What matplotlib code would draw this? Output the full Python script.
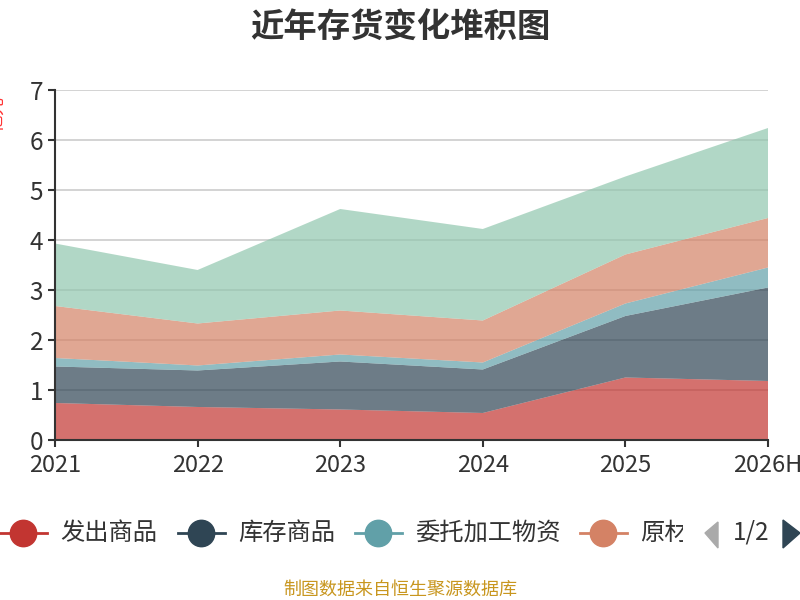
import matplotlib.pyplot as plt
from matplotlib.patches import Polygon
from matplotlib.lines import Line2D
from matplotlib.transforms import Bbox

plt.rcParams['font.family'] = ['Noto Sans CJK SC', 'DejaVu Sans']

years = ["2021", "2022", "2023", "2024", "2025", "2026H"]
series_names = ["发出商品", "库存商品", "委托加工物资", "原材料", "在产品"]
colors = ["#c23531", "#2f4554", "#61a0a8", "#d48265", "#91c7ae"]

fachu = [0.74, 0.66, 0.61, 0.54, 1.25, 1.18]
kucun = [0.73, 0.73, 0.96, 0.87, 1.23, 1.87]
weituo = [0.17, 0.10, 0.14, 0.14, 0.25, 0.40]
yuancailiao = [1.04, 0.84, 0.88, 0.84, 0.98, 0.99]
zaichan = [1.25, 1.07, 2.03, 1.83, 1.56, 1.80]

fig = plt.figure(figsize=(8, 6), dpi=100)
ax = fig.add_axes([0.06875, 0.2667, 0.89125, 0.5833])

x = range(len(years))
ax.stackplot(x, fachu, kucun, weituo, yuancailiao, zaichan,
             colors=colors, alpha=0.7, linewidth=0)

ax.set_xlim(0, len(years) - 1)
ax.set_ylim(0, 7)
ax.set_xticks(list(x))
ax.set_xticklabels(years)
ax.set_yticks(range(8))
ax.set_axisbelow(True)
ax.grid(axis="y", color="#cccccc", linewidth=1.2)
for s in ["top", "right"]:
    ax.spines[s].set_visible(False)
for s in ["left", "bottom"]:
    ax.spines[s].set_color("#333333")
    ax.spines[s].set_linewidth(1.5)
ax.tick_params(colors="#333333", labelsize=17.5, length=5, width=1.5)
ax.tick_params(axis="x", pad=5, labelsize=17)
for t in ax.get_xticklabels() + ax.get_yticklabels():
    t.set_color("#333333")

fig.text(0.5, 0.952, "近年存货变化堆积图", ha="center", va="center",
         fontsize=24, fontweight="bold", color="#333333")

# y axis name, cut by the left border like in the original
fig.text(-0.004, 0.81, "亿元", rotation=90, ha="center", va="center",
         fontsize=13, color="#ff3333")

# legend, first page of two
leg_y = 1 - 533 / 600
items = [(0, 60), (178, 238), (355, 415), (580, 640)]
for i, (lx, tx) in enumerate(items):
    fig.add_artist(Line2D([lx / 800, (lx + 47) / 800], [leg_y, leg_y],
                          color=colors[i], linewidth=2))
    fig.add_artist(Line2D([(lx + 23) / 800], [leg_y], marker="o",
                          markersize=19, color=colors[i], linewidth=0))
    t = fig.text(tx / 800, leg_y, series_names[i], ha="left", va="center",
                 fontsize=17.5, color="#333333")
    if i == 3:
        t.set_clip_box(Bbox([[0, 0], [683, 600]]))
        t.set_clip_on(True)

fig.add_artist(Polygon([[718 / 800, 1 - 522 / 600], [718 / 800, 1 - 548 / 600],
                        [705 / 800, leg_y]], closed=True, color="#aaaaaa"))
fig.text(751 / 800, leg_y, "1/2", ha="center", va="center", fontsize=17.5,
         color="#333333")
fig.add_artist(Polygon([[783 / 800, 1 - 520 / 600], [783 / 800, 1 - 548 / 600],
                        [800 / 800, leg_y]], closed=True, color="#2f4554"))

fig.text(0.5, 1 - 590 / 600, "制图数据来自恒生聚源数据库", ha="center",
         va="center", fontsize=13, color="#c8961e")

fig.savefig("out.png", dpi=100)
